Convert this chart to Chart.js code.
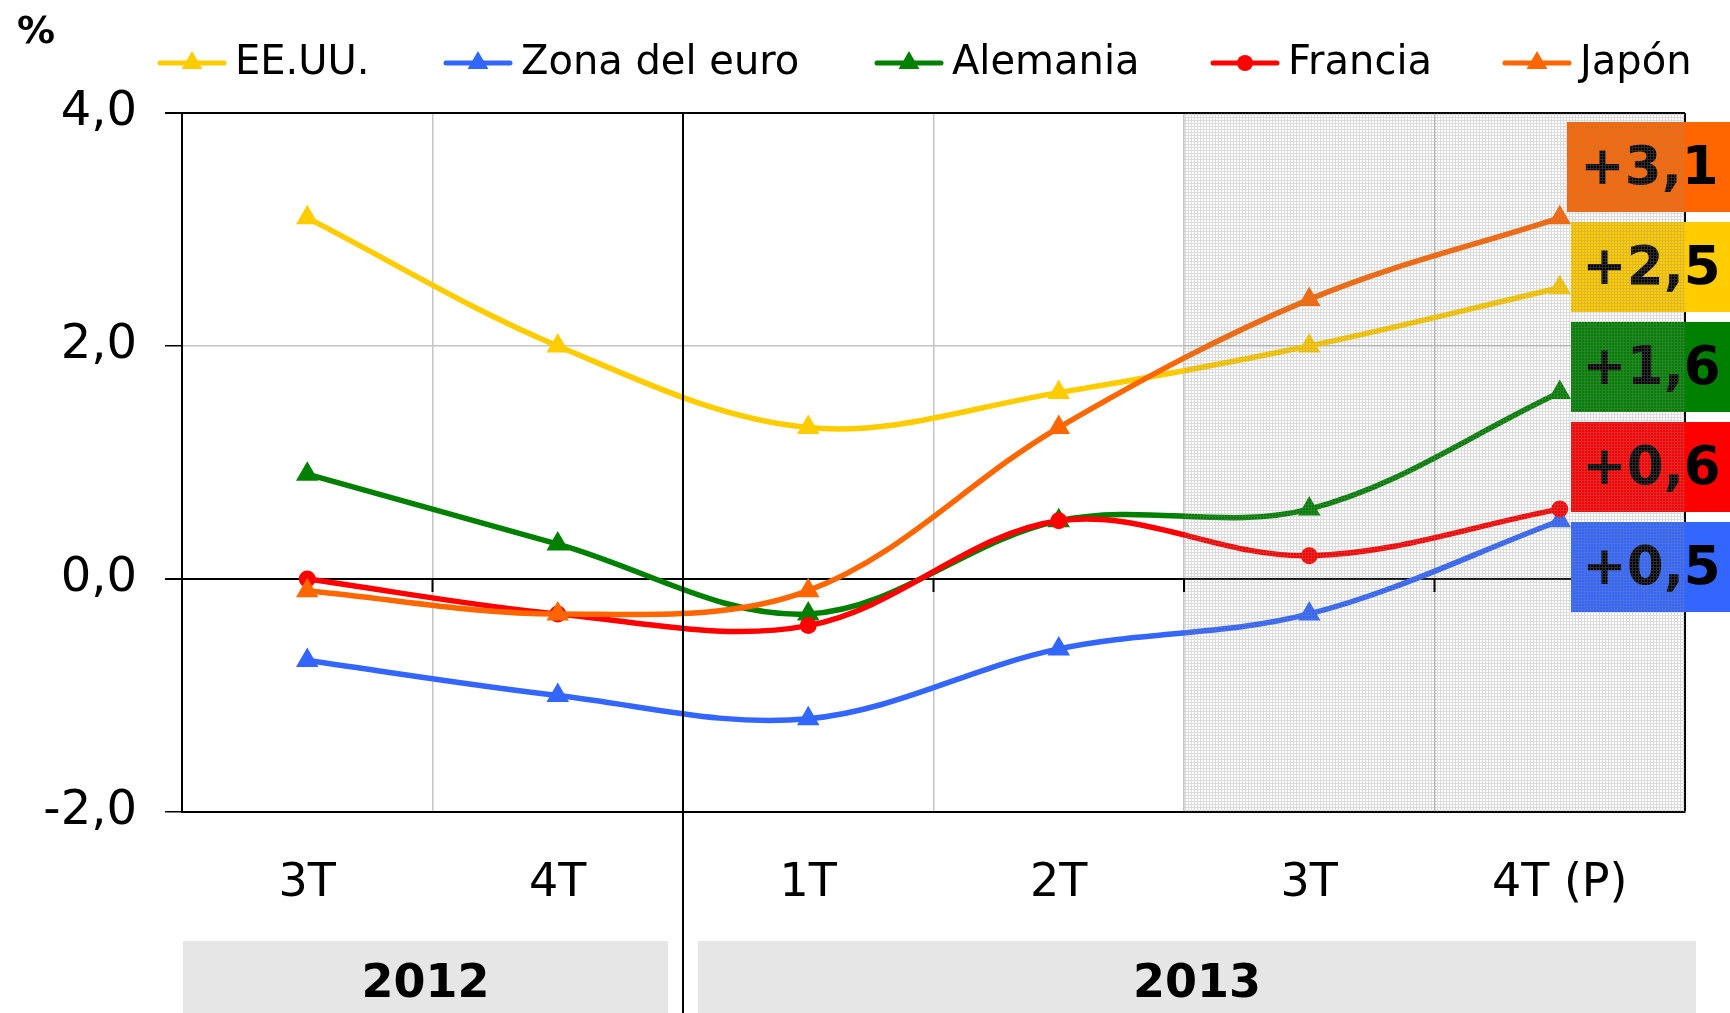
<!DOCTYPE html>
<html>
<head>
<meta charset="utf-8">
<style>
  html, body { margin: 0; padding: 0; background: #fff; }
  #wrap { position: relative; width: 1730px; height: 1013px; }
</style>
<script src="https://cdn.jsdelivr.net/npm/chart.js"></script>
</head>
<body>
<div id="wrap"><canvas id="pibChart" width="1730" height="1013"></canvas></div>
<script>
/* Datos: PIB, variación interanual (%) */
const quarters = ["3T", "4T", "1T", "2T", "3T", "4T (P)"];
const years = ["2012", "2013"];
const yearSpans = [2, 4];          // trimestres de cada año
const shadedFrom = 4;              // desde 3T 2013 zona sombreada
const yMin = -2, yMax = 4, yStep = 2;

const eeuu     = [3.1, 2.0, 1.3, 1.6, 2.0, 2.5];
const zonaEuro = [-0.7, -1.0, -1.2, -0.6, -0.3, 0.5];
const alemania = [0.9, 0.3, -0.3, 0.5, 0.6, 1.6];
const francia  = [0.0, -0.3, -0.4, 0.5, 0.2, 0.6];
const japon    = [-0.1, -0.3, -0.1, 1.3, 2.4, 3.1];

const seriesNames  = ["EE.UU.", "Zona del euro", "Alemania", "Francia", "Japón"];
const seriesData   = [eeuu, zonaEuro, alemania, francia, japon];
const seriesColors = ["#FFCC00", "#3366FF", "#008000", "#FF0000", "#FF6600"];
const seriesMarker = ["triangle", "triangle", "triangle", "circle", "triangle"];

const FONT = "'DejaVu Sans', Verdana, sans-serif";
const fmt = (v) => v.toFixed(1).replace(".", ",");

/* patrón punteado de la zona sombreada */
function makePattern(ctx) {
  const tile = document.createElement("canvas");
  tile.width = 3; tile.height = 3;
  const t = tile.getContext("2d");
  t.fillStyle = "rgba(140,140,140,0.3)";
  t.fillRect(0, 0, 3, 1);
  t.fillRect(0, 1, 1, 2);
  return ctx.createPattern(tile, "repeat");
}

function drawMarker(ctx, style, x, y, r, color) {
  ctx.fillStyle = color;
  ctx.beginPath();
  if (style === "circle") {
    ctx.arc(x, y, r, 0, Math.PI * 2);
  } else {
    ctx.moveTo(x, y - r);
    ctx.lineTo(x + r * 0.866, y + r / 2);
    ctx.lineTo(x - r * 0.866, y + r / 2);
    ctx.closePath();
  }
  ctx.fill();
}

const decor = {
  id: "decor",
  afterDatasetsDraw(chart) {
    const { ctx, chartArea: a, scales: { x } } = chart;

    // cajas con el último dato, ordenadas de mayor a menor
    const order = seriesData.map((d, i) => i)
      .sort((p, q) => seriesData[q][seriesData[q].length - 1] - seriesData[p][seriesData[p].length - 1]);
    order.forEach((i, k) => {
      const last = seriesData[i][seriesData[i].length - 1];
      const top = 122 + k * 100;
      const left = k === 0 ? 1567 : 1571;
      ctx.save();
      ctx.fillStyle = seriesColors[i];
      ctx.fillRect(left, top, 1730 - left, 90);
      ctx.fillStyle = "#000";
      ctx.font = "bold 53px " + FONT;
      ctx.textAlign = "center";
      ctx.textBaseline = "middle";
      ctx.fillText("+" + fmt(last), (left + 1730) / 2 + 1, top + 48);
      ctx.restore();
    });

    // sombreado encima de todo
    const xs = (x.getPixelForValue(shadedFrom - 1) + x.getPixelForValue(shadedFrom)) / 2;
    ctx.save();
    ctx.fillStyle = makePattern(ctx);
    ctx.fillRect(xs, a.top, a.right - xs, a.bottom - a.top);
    ctx.restore();
  },
  afterDraw(chart) {
    const { ctx, chartArea: a, scales: { x, y } } = chart;
    ctx.save();

    // "%"
    ctx.fillStyle = "#000";
    ctx.font = "bold 38px " + FONT;
    ctx.textAlign = "left";
    ctx.textBaseline = "middle";
    ctx.fillText("%", 17, 33);

    // leyenda
    const legendX = [160, 446, 877, 1213, 1505];
    const ly = 63;
    seriesNames.forEach((name, i) => {
      const lx = legendX[i];
      ctx.strokeStyle = seriesColors[i];
      ctx.lineWidth = 5;
      ctx.lineCap = "round";
      ctx.beginPath();
      ctx.moveTo(lx, ly);
      ctx.lineTo(lx + 64, ly);
      ctx.stroke();
      drawMarker(ctx, seriesMarker[i], lx + 32, ly, seriesMarker[i] === "circle" ? 8 : 12, seriesColors[i]);
      ctx.fillStyle = "#000";
      ctx.font = "40px " + FONT;
      ctx.textBaseline = "middle";
      ctx.fillText(name, lx + 75, ly + 1);
    });

    // marcas del eje en la línea del 0
    const y0 = y.getPixelForValue(0);
    ctx.strokeStyle = "#000";
    ctx.lineWidth = 2;
    ctx.lineCap = "butt";
    for (let i = 1; i < quarters.length; i++) {
      const bx = (x.getPixelForValue(i - 1) + x.getPixelForValue(i)) / 2;
      ctx.beginPath();
      ctx.moveTo(bx, y0);
      ctx.lineTo(bx, y0 + 13);
      ctx.stroke();
    }

    // separación de años y cajas de años
    const sep = (x.getPixelForValue(yearSpans[0] - 1) + x.getPixelForValue(yearSpans[0])) / 2;
    const boxes = [[a.left + 1, sep - 15], [sep + 15, a.right + 11]];
    boxes.forEach((b, i) => {
      ctx.fillStyle = "#E6E6E6";
      ctx.fillRect(b[0], 941, b[1] - b[0], 1013 - 941);
      ctx.fillStyle = "#000";
      ctx.font = "bold 46px " + FONT;
      ctx.textAlign = "center";
      ctx.textBaseline = "middle";
      ctx.fillText(years[i], (b[0] + b[1]) / 2, 985);
    });
    ctx.strokeStyle = "#000";
    ctx.lineWidth = 2;
    ctx.beginPath();
    ctx.moveTo(sep, a.top);
    ctx.lineTo(sep, 1013);
    ctx.stroke();

    ctx.restore();
  }
};

const datasets = seriesNames.map((name, i) => ({
  label: name,
  data: seriesData[i],
  borderColor: seriesColors[i],
  backgroundColor: seriesColors[i],
  borderWidth: 5.5,
  tension: 0.35,
  pointStyle: seriesMarker[i],
  pointRadius: seriesMarker[i] === "circle" ? 8.5 : 13,
  pointBorderWidth: 0,
  pointBackgroundColor: seriesColors[i],
  order: seriesNames.length - i,
  clip: false
}));

new Chart(document.getElementById("pibChart"), {
  type: "line",
  data: { labels: quarters, datasets: datasets },
  options: {
    responsive: false,
    animation: false,
    devicePixelRatio: 1,
    layout: { padding: { top: 113, right: 45, left: 0, bottom: 0 } },
    plugins: { legend: { display: false }, tooltip: { enabled: false } },
    scales: {
      x: {
        offset: true,
        grid: {
          offset: true,
          drawTicks: false,
          color: (c) => (c.index === undefined || c.index === 0 || c.index === yearSpans[0]) ? "#000" : "#C4C4C4",
          lineWidth: (c) => (c.index === undefined || c.index === yearSpans[0]) ? 2 : 1.5
        },
        border: { color: "#000", width: 2 },
        ticks: { color: "#000", font: { family: FONT, size: 46 }, padding: 44 },
        afterFit: (s) => { s.height = 1013 - 812; }
      },
      y: {
        min: yMin,
        max: yMax,
        grid: {
          color: (c) => (c.tick && (c.tick.value === 0 || c.tick.value === yMax)) ? "#000" : "#C4C4C4",
          lineWidth: (c) => (c.tick && (c.tick.value === 0 || c.tick.value === yMax)) ? 2 : 1.5,
          tickColor: "#000",
          tickLength: 17
        },
        border: { color: "#000", width: 2 },
        ticks: {
          stepSize: yStep,
          color: "#000",
          font: { family: FONT, size: 48 },
          padding: 28,
          callback: (v) => fmt(v)
        },
        afterFit: (s) => { s.width = 182; }
      }
    }
  },
  plugins: [decor]
});
</script>
</body>
</html>
